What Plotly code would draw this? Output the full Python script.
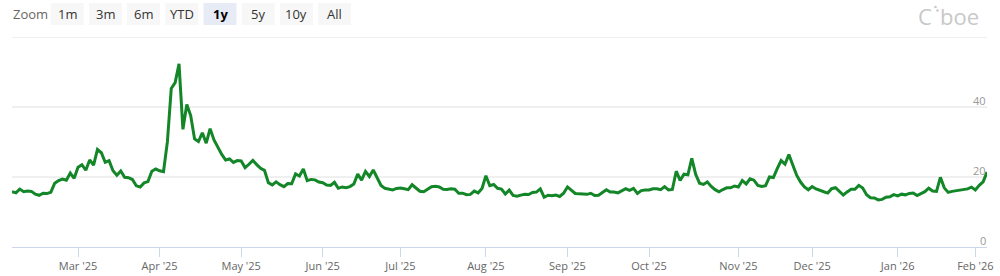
import pandas as pd
import plotly.graph_objects as go

# ---------------- data ----------------
holidays = ["2025-02-17", "2025-04-18", "2025-05-26", "2025-06-19", "2025-07-04",
            "2025-09-01", "2025-11-27", "2025-12-25", "2026-01-01", "2026-01-19"]
start_date = "2025-02-05"
end_date = "2026-02-05"

feb25 = [15.77, 15.50, 16.54, 15.81, 16.02, 15.89, 15.10, 14.77, 15.35, 15.27, 15.66,
         18.21, 18.98, 19.43, 19.10, 21.13, 19.63]
mar25 = [22.78, 23.51, 21.93, 24.87, 23.37, 27.86, 26.92, 24.23, 24.66, 21.77, 20.51,
         21.70, 19.90, 19.80, 19.28, 17.48, 17.15, 18.33, 18.69, 21.65, 22.28]
apr25 = [21.77, 21.51, 30.02, 45.31, 46.98, 52.33, 33.62, 40.72, 37.56, 30.89, 30.12,
         32.64, 29.65, 33.82, 30.57, 28.45, 26.47, 24.84, 25.15, 24.17, 24.70]
may25 = [24.60, 22.68, 23.64, 24.76, 23.55, 22.48, 21.90, 18.39, 17.72, 18.62, 17.83,
         17.24, 18.14, 18.09, 20.87, 20.28, 22.29, 18.96, 19.31, 19.18, 18.57]
jun25 = [18.36, 17.69, 17.61, 18.48, 16.77, 17.16, 16.95, 17.26, 18.02, 20.82, 19.11,
         21.60, 20.14, 22.00, 20.00, 17.60, 16.76, 16.59, 16.32, 16.73]
jul25 = [16.83, 16.64, 16.38, 17.79, 16.81, 15.94, 15.78, 16.40, 17.20, 17.38, 17.16,
         16.52, 16.41, 16.65, 16.50, 15.37, 15.39, 14.93, 15.03, 15.98, 15.48, 16.72]
aug25 = [20.38, 17.52, 17.85, 16.77, 16.57, 15.15, 16.25, 14.73, 14.49, 14.83, 15.09,
         14.99, 15.57, 15.69, 16.60, 14.22, 14.79, 14.62, 14.85, 14.43, 15.36]
sep25 = [17.17, 16.35, 15.30, 15.18, 15.11, 15.04, 15.35, 14.71, 14.76, 15.69, 16.36,
         15.72, 15.70, 15.45, 16.10, 16.64, 16.18, 16.74, 15.29, 16.12, 16.28]
oct25 = [16.29, 16.63, 16.65, 16.37, 17.24, 16.30, 16.43, 21.66, 19.03, 20.81, 20.64,
         25.31, 20.78, 18.23, 17.87, 18.60, 17.30, 16.37, 15.79, 16.42, 16.92, 16.91, 17.44]
nov25 = [17.17, 19.00, 18.01, 19.50, 19.08, 17.60, 17.28, 17.51, 20.00, 19.83, 22.38,
         24.69, 23.66, 26.42, 23.43, 20.52, 18.56, 17.19, 16.35]
dec25 = [17.24, 16.59, 16.08, 15.78, 15.41, 16.66, 16.93, 15.77, 14.85, 15.74, 16.50,
         16.48, 17.62, 16.87, 14.91, 14.08, 14.00, 13.47, 13.60, 14.20, 14.33, 14.95]
jan26 = [14.60, 15.10, 14.90, 15.30, 15.40, 14.70, 15.20, 15.80, 16.80, 16.00, 15.90,
         19.90, 16.90, 15.60, 15.90, 16.10, 16.30, 16.40, 16.60, 17.10]
feb26 = [16.30, 17.60, 18.60, 21.40]

y_ticks = [0, 20, 40]
grid_values = [20, 40, 60]
zoom_buttons = ["1m", "3m", "6m", "YTD", "1y", "5y", "10y", "All"]
selected_button = "1y"

values = feb25 + mar25 + apr25 + may25 + jun25 + jul25 + aug25 + sep25 + oct25 + nov25 + dec25 + jan26 + feb26
days = [d for d in pd.bdate_range(start_date, end_date) if d.strftime("%Y-%m-%d") not in holidays]
if len(days) != len(values):
    raise SystemExit(f"length mismatch {len(days)} vs {len(values)}")

# first trading day of each month (ticks)
tick_vals, tick_text = [], []
seen = set()
for d in days:
    key = (d.year, d.month)
    if key not in seen:
        seen.add(key)
        if d != days[0]:
            tick_vals.append(d)
            tick_text.append(d.strftime("%b '%y"))

# ---------------- figure ----------------
L, R, T, B = 12, 13, 37, 29
W, H = 1000, 276
pw, ph = W - L - R, H - T - B

def px_x(x):
    return (x - L) / pw

def px_y(y):
    return (H - B - y) / ph

fig = go.Figure()
fig.add_trace(go.Scatter(
    x=days, y=values, mode="lines",
    line=dict(color="#138628", width=3),
    hoverinfo="skip",
))

shapes = []
annotations = []

# gridlines (drawn as shapes so the top one at the plot edge is visible)
for v in grid_values:
    shapes.append(dict(
        type="line", xref="paper", yref="y", x0=0, x1=1, y0=v, y1=v,
        line=dict(color="#e0e0e0", width=1), layer="below",
    ))

# y labels above gridlines (right side)
for v in y_ticks:
    annotations.append(dict(
        x=1, xref="paper", y=v, yref="y", xanchor="right", yanchor="bottom",
        text=str(v), showarrow=False, yshift=-3, xshift=1,
        font=dict(size=11, color="#999999", family="Open Sans"),
    ))

# Zoom label and buttons
annotations.append(dict(
    x=px_x(11), xref="paper", y=px_y(14), yref="paper", xanchor="left", yanchor="middle",
    text="Zoom", showarrow=False, font=dict(size=13, color="#666666", family="Open Sans"),
))
bx0, bstep, bw = 50.7, 38.2, 33
for i, lab in enumerate(zoom_buttons):
    x0 = bx0 + i * bstep
    sel = lab == selected_button
    shapes.append(dict(
        type="rect", xref="paper", yref="paper",
        x0=px_x(x0), x1=px_x(x0 + bw), y0=px_y(25), y1=px_y(3),
        fillcolor="#e6ebf5" if sel else "#f7f7f7", line=dict(width=0), layer="above",
    ))
    annotations.append(dict(
        x=px_x(x0 + bw / 2), xref="paper", y=px_y(14), yref="paper",
        xanchor="center", yanchor="middle", showarrow=False,
        text=f"<b>{lab}</b>" if sel else lab,
        font=dict(size=13, color="#000000" if sel else "#333333", family="Open Sans"),
    ))

# Cboe logo: text plus two small dots
logo_color = "#c8c8c8"
annotations.append(dict(
    x=px_x(917), xref="paper", y=px_y(0), yref="paper", xanchor="left", yanchor="top",
    text="C", showarrow=False, borderpad=0,
    font=dict(size=22, color=logo_color, family="Open Sans"),
))
annotations.append(dict(
    x=px_x(939), xref="paper", y=px_y(0), yref="paper", xanchor="left", yanchor="top",
    text="boe", showarrow=False, borderpad=0,
    font=dict(size=22, color=logo_color, family="Open Sans"),
))
for (cx, cy) in [(935.5, 7.0), (937.5, 10.5)]:
    shapes.append(dict(
        type="circle", xref="paper", yref="paper",
        x0=px_x(cx - 1.3), x1=px_x(cx + 1.3), y0=px_y(cy + 1.3), y1=px_y(cy - 1.3),
        fillcolor=logo_color, line=dict(width=0),
    ))

fig.update_layout(
    width=W, height=H,
    margin=dict(l=L, r=R, t=T, b=B, autoexpand=False),
    paper_bgcolor="white", plot_bgcolor="white",
    showlegend=False,
    font=dict(family="Open Sans"),
    shapes=shapes, annotations=annotations,
    xaxis=dict(
        type="date", range=[days[0], days[-1]],
        rangebreaks=[dict(bounds=["sat", "mon"]), dict(values=holidays)],
        tickmode="array", tickvals=tick_vals, ticktext=tick_text,
        ticks="outside", ticklen=9, tickwidth=1, tickcolor="#ccd6eb",
        showline=True, linecolor="#ccd6eb", linewidth=1,
        showgrid=False, zeroline=False, automargin=False,
        tickfont=dict(size=11, color="#666666", family="Open Sans"),
        fixedrange=True,
    ),
    yaxis=dict(
        range=[0, 60], showticklabels=False, showgrid=False,
        zeroline=False, showline=False, automargin=False, fixedrange=True,
    ),
)

fig.write_html("out.html")
